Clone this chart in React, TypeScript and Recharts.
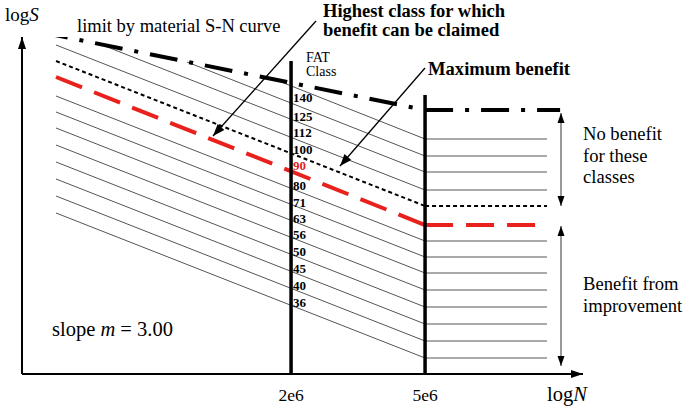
import { ComposedChart, Line, Scatter, XAxis, YAxis, ReferenceLine } from 'recharts';

// FAT classes from top to bottom (160 is drawn but not labelled)
const fatClasses = [160, 140, 125, 112, 100, 90, 80, 71, 63, 56, 50, 45, 40, 36];
// where each class line starts: the upper ones start on the material curve
const startLogN = [6.242, 5.992, 5.725, 5.603, 5.603, 5.603, 5.603, 5.603, 5.603, 5.603, 5.603, 5.603, 5.603, 5.603];
const startLogS = [296, 312, 331, 329, 313, 297, 278, 262, 246, 229, 212, 195, 178, 161];
// level of each class at 5e6 (knee, then constant)
const kneeLogS = [235, 218, 202, 184, 168, 149, 133, 117, 101, 84, 67, 50, 33, 16];
// label positions along the 2e6 line
const labelLogS = [0, 277, 258, 242, 225, 209, 189, 172, 156, 140, 123, 106, 89, 72];
// material S-N limit
const materialLogN = [5.556, 6.699, 7.1];
const materialLogS = [342, 264, 264];

const xTicks = [2e6, 5e6];
const LOG_2E6 = Math.log10(xTicks[0]);
const LOG_5E6 = Math.log10(xTicks[1]);
const END_LOGN = 7.061;
const X_DOMAIN = [5.502, 7.168];
const Y_DOMAIN = [0, 337];

const SERIF = '"Liberation Serif", "Times New Roman", serif';

const HIGHEST = 100; // dotted
const CLAIMED = 90; // red dashed

function arrowPoints(x1: number, y1: number, x2: number, y2: number, len = 10, half = 4) {
  const a = Math.atan2(y2 - y1, x2 - x1);
  const bx = x2 - len * Math.cos(a);
  const by = y2 - len * Math.sin(a);
  const px = -Math.sin(a) * half;
  const py = Math.cos(a) * half;
  return `${x2},${y2} ${bx + px},${by + py} ${bx - px},${by - py}`;
}

const AxisArrow = (props: any) => {
  const { x1, y1, x2, y2 } = props;
  return (
    <g>
      <line x1={x1} y1={y1} x2={x2} y2={y2} stroke="#000" strokeWidth={2} />
      <polygon points={arrowPoints(x1, y1, x2, y2, 12, 4)} fill="#000" />
    </g>
  );
};

const ClassLabel = (props: any) => {
  const { cx, cy, payload } = props;
  return (
    <text
      x={cx + 2}
      y={cy}
      dy="0.35em"
      fontFamily={SERIF}
      fontWeight="bold"
      fontSize={13}
      fill={payload.fat === CLAIMED ? '#e0201b' : '#000'}
    >
      {payload.fat}
    </text>
  );
};

export default function App() {
  const classLines = fatClasses.map((fat, i) => ({
    fat,
    slope: [
      { x: startLogN[i], y: startLogS[i] },
      { x: LOG_5E6, y: kneeLogS[i] },
    ],
    flat: [
      { x: LOG_5E6, y: kneeLogS[i] },
      { x: END_LOGN, y: kneeLogS[i] },
    ],
  }));

  const labels = fatClasses
    .map((fat, i) => ({ fat, x: LOG_2E6, y: labelLogS[i] }))
    .filter((d) => d.fat !== 160);

  const materialSlope = [
    { x: materialLogN[0], y: materialLogS[0] },
    { x: materialLogN[1], y: materialLogS[1] },
  ];
  const materialFlat = [
    { x: materialLogN[1], y: materialLogS[1] },
    { x: materialLogN[2], y: materialLogS[2] },
  ];

  const styleFor = (fat: number) => {
    if (fat === HIGHEST) return { stroke: '#000', strokeWidth: 2, strokeDasharray: '4 3' };
    if (fat === CLAIMED) return { stroke: '#e8211c', strokeWidth: 4, strokeDasharray: '28 13' };
    return { stroke: '#555', strokeWidth: 1, strokeDasharray: undefined };
  };

  return (
    <div style={{ position: 'absolute', left: 0, top: 0, width: 685, height: 408, background: '#fff' }}>
      <ComposedChart width={685} height={408} margin={{ top: 37, right: 102, bottom: 0, left: 0 }}>
        <XAxis
          type="number"
          dataKey="x"
          domain={X_DOMAIN}
          allowDataOverflow
          ticks={[LOG_2E6, LOG_5E6]}
          tickFormatter={(v: number) => (Math.abs(v - LOG_2E6) < 0.01 ? '2e6' : '5e6')}
          axisLine={false}
          tickLine={false}
          tickMargin={9}
          height={34}
          tick={{ fill: '#000', fontSize: 17.5, fontFamily: SERIF }}
        />
        <YAxis type="number" dataKey="y" domain={Y_DOMAIN} allowDataOverflow width={22} axisLine={false} tickLine={false} tick={false} />

        {classLines.map((c) => {
          const s = styleFor(c.fat);
          return (
            <Line
              key={`s-${c.fat}`}
              data={c.slope}
              dataKey="y"
              type="linear"
              dot={false}
              activeDot={false}
              stroke={s.stroke}
              strokeWidth={s.strokeWidth}
              strokeDasharray={s.strokeDasharray}
              isAnimationActive={false}
            />
          );
        })}
        {classLines.map((c) => {
          const s = styleFor(c.fat);
          return (
            <Line
              key={`f-${c.fat}`}
              data={c.flat}
              dataKey="y"
              type="linear"
              dot={false}
              activeDot={false}
              stroke={s.stroke}
              strokeWidth={s.strokeWidth}
              strokeDasharray={s.strokeDasharray}
              isAnimationActive={false}
            />
          );
        })}

        <Line data={materialSlope} dataKey="y" type="linear" dot={false} activeDot={false} stroke="#000" strokeWidth={4} strokeDasharray="28 12 4 12" isAnimationActive={false} />
        <Line data={materialFlat} dataKey="y" type="linear" dot={false} activeDot={false} stroke="#000" strokeWidth={4} strokeDasharray="28 12 4 12" isAnimationActive={false} />

        <ReferenceLine segment={[{ x: LOG_2E6, y: 0 }, { x: LOG_2E6, y: 313 }]} stroke="#000" strokeWidth={3.5} />
        <ReferenceLine segment={[{ x: LOG_5E6, y: 0 }, { x: LOG_5E6, y: 279 }]} stroke="#000" strokeWidth={3.5} />

        <ReferenceLine segment={[{ x: X_DOMAIN[0], y: 0 }, { x: X_DOMAIN[0], y: Y_DOMAIN[1] }]} shape={AxisArrow} ifOverflow="visible" />
        <ReferenceLine segment={[{ x: X_DOMAIN[0], y: 0 }, { x: X_DOMAIN[1], y: 0 }]} shape={AxisArrow} ifOverflow="visible" />

        <Scatter data={labels} dataKey="y" shape={ClassLabel} isAnimationActive={false} />
      </ComposedChart>

      <svg width={685} height={408} style={{ position: 'absolute', left: 0, top: 0, pointerEvents: 'none' }}>
        <g fontFamily={SERIF} fill="#000">
          <text x={5} y={21} fontSize={19}>
            log<tspan fontStyle="italic">S</tspan>
          </text>
          <text x={547} y={401} fontSize={20.5}>
            log<tspan fontStyle="italic">N</tspan>
          </text>
          <text x={77} y={32} fontSize={18.5}>limit by material S-N curve</text>
          <text x={323} y={16.5} fontSize={18.5} fontWeight="bold">Highest class for which</text>
          <text x={323} y={36} fontSize={18.5} fontWeight="bold">benefit can be claimed</text>
          <text x={306} y={62} fontSize={14}>FAT</text>
          <text x={306} y={76} fontSize={14}>Class</text>
          <text x={428} y={75} fontSize={18.6} fontWeight="bold">Maximum benefit</text>
          <text x={583} y={140} fontSize={18.6}>No benefit</text>
          <text x={583} y={162} fontSize={18.6}>for these</text>
          <text x={583} y={183} fontSize={18.6}>classes</text>
          <text x={583} y={290} fontSize={18.6}>Benefit from</text>
          <text x={583} y={312} fontSize={18.6}>improvement</text>
          <text x={52} y={336} fontSize={20.5}>
            slope <tspan fontStyle="italic">m</tspan> = 3.00
          </text>
        </g>
        <g stroke="#000" strokeWidth={1.3}>
          <line x1={316} y1={21} x2={213} y2={136} />
          <line x1={425} y1={68} x2={340} y2={166} />
        </g>
        <polygon points={arrowPoints(316, 21, 213, 136, 12, 4.5)} fill="#000" />
        <polygon points={arrowPoints(425, 68, 340, 166, 12, 4.5)} fill="#000" />
        <g stroke="#333" strokeWidth={1}>
          <line x1={561} y1={113} x2={561} y2={206} />
          <line x1={561} y1={226} x2={561} y2={366} />
        </g>
        <g fill="#000">
          <polygon points={arrowPoints(561, 206, 561, 113, 10, 3.5)} />
          <polygon points={arrowPoints(561, 113, 561, 206, 10, 3.5)} />
          <polygon points={arrowPoints(561, 366, 561, 226, 10, 3.5)} />
          <polygon points={arrowPoints(561, 226, 561, 366, 10, 3.5)} />
        </g>
      </svg>
    </div>
  );
}
